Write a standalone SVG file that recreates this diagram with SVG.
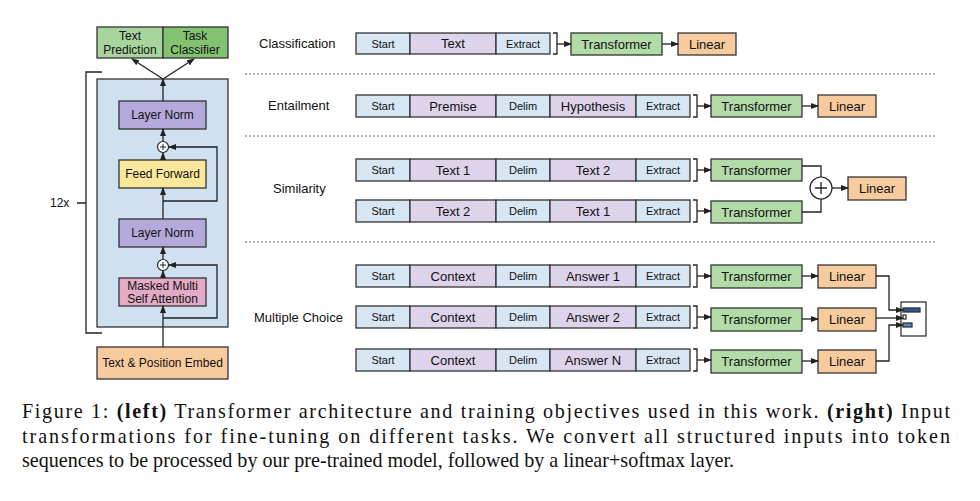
<svg xmlns="http://www.w3.org/2000/svg" width="980" height="501" viewBox="0 0 980 501">
<style>
text{font-family:"Liberation Sans",Arial,sans-serif;fill:#111}
.b rect{stroke:#333;stroke-width:1.3}
.s{fill:#d7e6f3}.p{fill:#ddd3eb}.g{fill:#b3dba7}.o{fill:#f8cb9f}
.t11{font-size:11px}.t12{font-size:12px}.t13{font-size:13px}
.c{text-anchor:middle}
.ln{fill:none;stroke:#222;stroke-width:1.3}
.dot{stroke:#666;stroke-width:1;stroke-dasharray:2 2}
.cap{font-family:"Liberation Serif","Times New Roman",serif;font-size:20.1px}
</style>
<defs><marker id="a" markerWidth="8" markerHeight="8" refX="7" refY="4" orient="auto" markerUnits="userSpaceOnUse"><path d="M0,1L8,4L0,7z" fill="#222"/></marker></defs>
<rect width="980" height="501" fill="#fff"/>

<g id="outputs" class="b t12">
<rect x="97" y="27" width="66" height="31" fill="#a8d49d"/>
<rect x="163" y="27" width="65" height="31" fill="#83c271"/>
<text class="c" x="130" y="40">Text</text><text class="c" x="130" y="54">Prediction</text>
<text class="c" x="195" y="40">Task</text><text class="c" x="195" y="54">Classifier</text>
</g>
<g id="bracket12"><path class="ln" d="M102,72H86V333H102M77,203H86"/><text class="t12" x="50" y="207">12x</text></g>
<g id="block" class="b t12">
<rect x="97" y="79" width="131" height="248" fill="#cfe1f1"/>
<rect x="119" y="101" width="87" height="28" fill="#b5a8da"/>
<text class="c" x="162.5" y="119">Layer Norm</text>
<rect x="119" y="160" width="87" height="28" fill="#fbe79b"/>
<text class="c" x="162.5" y="178">Feed Forward</text>
<rect x="119" y="219" width="87" height="28" fill="#b5a8da"/>
<text class="c" x="162.5" y="237">Layer Norm</text>
<rect x="119" y="278" width="87" height="28" fill="#e3abc6"/>
<text class="c" x="162.5" y="290">Masked Multi</text><text class="c" x="162.5" y="303">Self Attention</text>
<circle cx="163" cy="147" r="5.5" fill="#fff" stroke="#222" stroke-width="1.2"/><path d="M160,147h6M163,144v6" stroke="#222"/>
<circle cx="163" cy="265" r="5.5" fill="#fff" stroke="#222" stroke-width="1.2"/><path d="M160,265h6M163,262v6" stroke="#222"/>
</g>
<g id="embed" class="b t12"><rect x="97" y="347" width="131" height="32" fill="#f8cb9f"/><text class="c" x="162.5" y="367">Text &amp; Position Embed</text></g>
<g id="left-connectors">
<path class="ln" d="M163,347V306" marker-end="url(#a)"/>
<path class="ln" d="M163,318H217V265H169" marker-end="url(#a)"/>
<path class="ln" d="M163,278V271" marker-end="url(#a)"/>
<path class="ln" d="M163,259V247" marker-end="url(#a)"/>
<path class="ln" d="M163,219V188" marker-end="url(#a)"/>
<path class="ln" d="M163,201H217V147H169" marker-end="url(#a)"/>
<path class="ln" d="M163,160V153" marker-end="url(#a)"/>
<path class="ln" d="M163,141V129" marker-end="url(#a)"/>
<path class="ln" d="M163,101V79" marker-end="url(#a)"/>
<path class="ln" d="M163,79L132,59" marker-end="url(#a)"/>
<path class="ln" d="M163,79L194,59" marker-end="url(#a)"/>
</g>

<g id="dividers"><path class="dot" d="M245,74H935M245,136H935M245,242H935"/></g>

<g id="labels" class="t13">
<text x="259" y="48">Classification</text>
<text x="268" y="110">Entailment</text>
<text x="273" y="193">Similarity</text>
<text x="254" y="322">Multiple Choice</text>
</g>

<g id="classification" class="b t11">
<rect x="356" y="33" width="54" height="21" class="s"/><text class="c" x="383" y="48">Start</text>
<rect x="410" y="33" width="86" height="21" class="p"/><text class="c t13" x="453" y="48">Text</text>
<rect x="496" y="33" width="54" height="21" class="s"/><text class="c" x="523" y="48">Extract</text>
<rect x="571" y="33" width="91" height="22" class="g"/><text class="c t13" x="616.5" y="49">Transformer</text>
<rect x="678" y="33" width="58" height="22" class="o"/><text class="c t13" x="707" y="49">Linear</text>
</g>

<g id="entailment" class="b t11">
<rect x="356" y="95" width="54" height="22" class="s"/><text class="c" x="383" y="110">Start</text>
<rect x="410" y="95" width="86" height="22" class="p"/><text class="c t13" x="453" y="111">Premise</text>
<rect x="496" y="95" width="54" height="22" class="s"/><text class="c" x="523" y="110">Delim</text>
<rect x="550" y="95" width="86" height="22" class="p"/><text class="c t13" x="593" y="111">Hypothesis</text>
<rect x="636" y="95" width="54" height="22" class="s"/><text class="c" x="663" y="110">Extract</text>
<rect x="711" y="95" width="91" height="22" class="g"/><text class="c t13" x="756.5" y="111">Transformer</text>
<rect x="818" y="95" width="58" height="22" class="o"/><text class="c t13" x="847" y="111">Linear</text>
</g>

<g id="similarity" class="b t11">
<rect x="356" y="159" width="54" height="22" class="s"/><text class="c" x="383" y="174">Start</text>
<rect x="410" y="159" width="86" height="22" class="p"/><text class="c t13" x="453" y="175">Text 1</text>
<rect x="496" y="159" width="54" height="22" class="s"/><text class="c" x="523" y="174">Delim</text>
<rect x="550" y="159" width="86" height="22" class="p"/><text class="c t13" x="593" y="175">Text 2</text>
<rect x="636" y="159" width="54" height="22" class="s"/><text class="c" x="663" y="174">Extract</text>
<rect x="356" y="200" width="54" height="22" class="s"/><text class="c" x="383" y="215">Start</text>
<rect x="410" y="200" width="86" height="22" class="p"/><text class="c t13" x="453" y="216">Text 2</text>
<rect x="496" y="200" width="54" height="22" class="s"/><text class="c" x="523" y="215">Delim</text>
<rect x="550" y="200" width="86" height="22" class="p"/><text class="c t13" x="593" y="216">Text 1</text>
<rect x="636" y="200" width="54" height="22" class="s"/><text class="c" x="663" y="215">Extract</text>
<rect x="711" y="159" width="91" height="22" class="g"/><text class="c t13" x="756.5" y="175">Transformer</text>
<rect x="711" y="201" width="91" height="22" class="g"/><text class="c t13" x="756.5" y="217">Transformer</text>
<rect x="848" y="177" width="58" height="23" class="o"/><text class="c t13" x="877" y="193">Linear</text>
<circle cx="821" cy="188" r="11" fill="#fff" stroke="#222" stroke-width="1.2"/><path d="M815,188h12M821,182v12" stroke="#222" stroke-width="1.3"/>
</g>

<g id="multiple-choice" class="b t11">
<rect x="356" y="265" width="54" height="22" class="s"/><text class="c" x="383" y="280">Start</text>
<rect x="410" y="265" width="86" height="22" class="p"/><text class="c t13" x="453" y="281">Context</text>
<rect x="496" y="265" width="54" height="22" class="s"/><text class="c" x="523" y="280">Delim</text>
<rect x="550" y="265" width="86" height="22" class="p"/><text class="c t13" x="593" y="281">Answer 1</text>
<rect x="636" y="265" width="54" height="22" class="s"/><text class="c" x="663" y="280">Extract</text>
<rect x="356" y="306" width="54" height="22" class="s"/><text class="c" x="383" y="321">Start</text>
<rect x="410" y="306" width="86" height="22" class="p"/><text class="c t13" x="453" y="322">Context</text>
<rect x="496" y="306" width="54" height="22" class="s"/><text class="c" x="523" y="321">Delim</text>
<rect x="550" y="306" width="86" height="22" class="p"/><text class="c t13" x="593" y="322">Answer 2</text>
<rect x="636" y="306" width="54" height="22" class="s"/><text class="c" x="663" y="321">Extract</text>
<rect x="356" y="349" width="54" height="22" class="s"/><text class="c" x="383" y="364">Start</text>
<rect x="410" y="349" width="86" height="22" class="p"/><text class="c t13" x="453" y="365">Context</text>
<rect x="496" y="349" width="54" height="22" class="s"/><text class="c" x="523" y="364">Delim</text>
<rect x="550" y="349" width="86" height="22" class="p"/><text class="c t13" x="593" y="365">Answer N</text>
<rect x="636" y="349" width="54" height="22" class="s"/><text class="c" x="663" y="364">Extract</text>
<rect x="711" y="265" width="91" height="23" class="g"/><text class="c t13" x="756.5" y="281">Transformer</text>
<rect x="711" y="308" width="91" height="23" class="g"/><text class="c t13" x="756.5" y="324">Transformer</text>
<rect x="711" y="350" width="91" height="23" class="g"/><text class="c t13" x="756.5" y="366">Transformer</text>
<rect x="818" y="265" width="58" height="23" class="o"/><text class="c t13" x="847" y="281">Linear</text>
<rect x="818" y="308" width="58" height="23" class="o"/><text class="c t13" x="847" y="324">Linear</text>
<rect x="818" y="350" width="58" height="23" class="o"/><text class="c t13" x="847" y="366">Linear</text>
<rect x="901" y="302" width="25" height="34" fill="#fff" stroke-width="1"/>
<rect x="903" y="308" width="17" height="4" fill="#2a5b8c" stroke-width="0.6"/>
<rect x="903" y="315" width="3" height="4" fill="#fff" stroke-width="0.6"/>
<rect x="903" y="323" width="9" height="4" fill="#4a8cc4" stroke-width="0.6"/>
</g>

<g id="connectors">
<path class="ln" d="M553,33h4v21h-4M693,95h4v22h-4M693,159h4v22h-4M693,200h4v22h-4M693,265h4v22h-4M693,306h4v22h-4M693,349h4v22h-4"/>
<path class="ln" d="M557,44H571" marker-end="url(#a)"/>
<path class="ln" d="M662,44H678" marker-end="url(#a)"/>
<path class="ln" d="M697,106H711" marker-end="url(#a)"/>
<path class="ln" d="M802,106H818" marker-end="url(#a)"/>
<path class="ln" d="M697,170H711" marker-end="url(#a)"/>
<path class="ln" d="M697,211H711" marker-end="url(#a)"/>
<path class="ln" d="M802,166H821V177M802,212H821V199"/>
<path class="ln" d="M832,188H848" marker-end="url(#a)"/>
<path class="ln" d="M697,276H711" marker-end="url(#a)"/>
<path class="ln" d="M697,317H711" marker-end="url(#a)"/>
<path class="ln" d="M697,360H711" marker-end="url(#a)"/>
<path class="ln" d="M802,276H818" marker-end="url(#a)"/>
<path class="ln" d="M802,319H818" marker-end="url(#a)"/>
<path class="ln" d="M802,361H818" marker-end="url(#a)"/>
<path class="ln" d="M876,276H889V310H903" marker-end="url(#a)"/>
<path class="ln" d="M876,318H903" marker-end="url(#a)"/>
<path class="ln" d="M876,361H889V325H903" marker-end="url(#a)"/>
</g>

<g id="caption">
<text class="cap" x="22" y="418" textLength="928" lengthAdjust="spacing">Figure 1: <tspan font-weight="bold">(left)</tspan> Transformer architecture and training objectives used in this work. <tspan font-weight="bold">(right)</tspan> Input</text>
<text class="cap" x="22" y="443" textLength="928" lengthAdjust="spacing">transformations for fine-tuning on different tasks.  We convert all structured inputs into token</text>
<text class="cap" x="22" y="467">sequences to be processed by our pre-trained model, followed by a linear+softmax layer.</text>
</g>
</svg>
